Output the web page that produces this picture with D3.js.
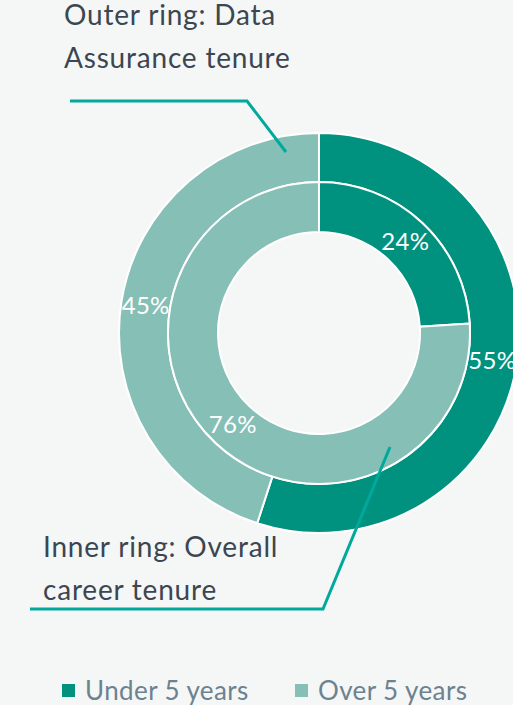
<!DOCTYPE html>
<html>
<head>
<meta charset="utf-8">
<script src="https://cdn.jsdelivr.net/npm/d3@7"></script>
<style>
  body { margin: 0; background: #f5f6f6; }
  svg { display: block; }
</style>
</head>
<body>
<div id="chart"></div>
<script>
let svg_width = 513
let svg_height = 705

// data
let categories = ["Under 5 years", "Over 5 years"]
let outerValues = [55, 45]   // Data Assurance tenure
let innerValues = [24, 76]   // Overall career tenure
let colors = ["#00927f", "#86bfb6"]

let cx = 319, cy = 333
let rInner = 101, rMid = 151, rOuter = 200
let font = "Lato, 'Open Sans', sans-serif"

let svg = d3.select("#chart")
    .append("svg")
    .attr("width", svg_width)
    .attr("height", svg_height)

svg.append("rect")
    .attr("width", svg_width)
    .attr("height", svg_height)
    .attr("fill", "#f5f6f6")

let g = svg.append("g")
    .attr("transform", `translate(${cx},${cy})`)

let color = d3.scaleOrdinal()
    .domain(categories)
    .range(colors)

let pie = d3.pie()
    .sort(null)
    .value(d => d.value)

function ring(values, r0, r1, cls){
    let data_ready = pie(values.map((v, i) => ({key: categories[i], value: v})))
    let arc = d3.arc().innerRadius(r0).outerRadius(r1)

    g.selectAll("." + cls)
        .data(data_ready)
        .enter()
        .append("path")
        .attr("class", cls)
        .attr("d", arc)
        .attr("fill", d => color(d.data.key))
        .attr("stroke", "white")
        .style("stroke-width", "2px")

    g.selectAll("." + cls + "Label")
        .data(data_ready)
        .enter()
        .append("text")
        .attr("class", cls + "Label")
        .attr("transform", d => "translate(" + arc.centroid(d) + ")")
        .attr("dy", "0.35em")
        .style("text-anchor", "middle")
        .style("font-family", font)
        .style("font-size", "24px")
        .style("letter-spacing", "0.3px")
        .style("fill", "white")
        .text(d => d.data.value + "%")
}

ring(outerValues, rMid, rOuter, "outer")
ring(innerValues, rInner, rMid, "inner")

// leader lines
let lineColor = "#00a99b"
svg.append("polyline")
    .attr("points", [[70, 101], [247, 101], [286, 152]])
    .attr("fill", "none")
    .attr("stroke", lineColor)
    .attr("stroke-width", 3)

svg.append("polyline")
    .attr("points", [[30, 609], [323, 609], [390, 447]])
    .attr("fill", "none")
    .attr("stroke", lineColor)
    .attr("stroke-width", 3)

// annotations
let noteColor = "#3b4651"
function note(lines, x, y){
    let t = svg.append("text")
        .style("font-family", font)
        .style("font-size", "28px")
        .style("letter-spacing", "0.8px")
        .style("fill", noteColor)
    lines.forEach((l, i) => {
        t.append("tspan")
            .attr("x", x)
            .attr("y", y + i * 43)
            .text(l)
    })
}
note(["Outer ring: Data", "Assurance tenure"], 64, 25)
note(["Inner ring: Overall", "career tenure"], 43, 557)

// legend
let legendX = [62, 295]
let legend = svg.selectAll(".legend")
    .data(categories)
    .enter()
    .append("g")
    .attr("class", "legend")
    .attr("transform", (d, i) => `translate(${legendX[i]}, 684)`)

legend.append("rect")
    .attr("width", 13)
    .attr("height", 13)
    .attr("fill", d => color(d))

legend.append("text")
    .attr("x", 23)
    .attr("y", 16)
    .style("font-family", font)
    .style("font-size", "26px")
    .style("letter-spacing", "0.4px")
    .style("fill", "#6c8291")
    .text(d => d)
</script>
</body>
</html>
